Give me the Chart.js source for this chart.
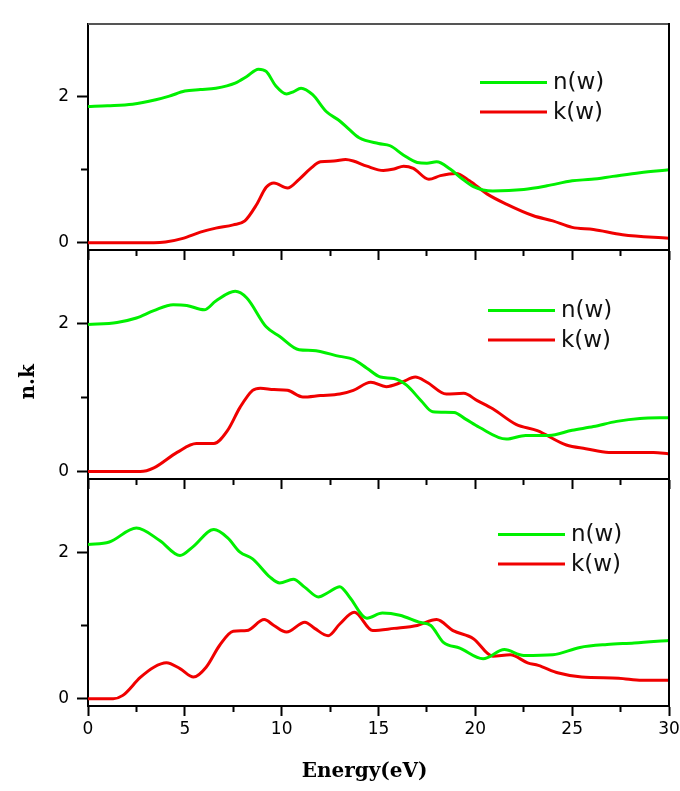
<!DOCTYPE html>
<html><head><meta charset="utf-8">
<script src="https://cdn.jsdelivr.net/npm/chart.js@4.4.1/dist/chart.umd.min.js"></script>
<style>
html,body{margin:0;padding:0;background:#fff;}
#wrap{position:relative;width:680px;height:791px;overflow:hidden;background:#fff;}
canvas{position:absolute;left:0;}
</style></head><body>
<div id="wrap">
<canvas id="c1" width="700" height="262" style="top:0px"></canvas>
<canvas id="c2" width="700" height="250" style="top:240px"></canvas>
<canvas id="c3" width="700" height="321" style="top:470px"></canvas>
</div>
<script>
// ---- tick values and labels ----
const xMajorTicks = [0, 5, 10, 15, 20, 25, 30];
const xMinorTicks = [2.5, 7.5, 12.5, 17.5, 22.5, 27.5];
const yMajorTicks = [0, 2];
const yMinorTicks = [1];
const seriesLabels = ['n(w)', 'k(w)'];
const xTitle = 'Energy(eV)';
const yTitle = 'n.k';

// ---- panel 1 ----
const p1nE = [0, 1, 2.3, 3.5, 4.2, 5.0, 5.8, 6.6, 7.6, 8.2, 8.8, 9.2, 9.7, 10.25, 10.6, 11.0, 11.6, 12.3, 13.0, 13.5, 14.0, 15.0, 15.6, 16.3, 17.0, 17.5, 18.0, 18.7, 19.3, 19.9, 20.9, 22.5, 23.7, 25.0, 26.0, 27.1, 28.5, 30];
const p1n  = [1.87, 1.88, 1.90, 1.96, 2.01, 2.08, 2.10, 2.12, 2.19, 2.28, 2.38, 2.35, 2.15, 2.04, 2.07, 2.12, 2.03, 1.80, 1.67, 1.55, 1.44, 1.36, 1.33, 1.20, 1.10, 1.09, 1.11, 1.01, 0.88, 0.77, 0.71, 0.73, 0.78, 0.85, 0.87, 0.91, 0.96, 1.00];
const p1kE = [0, 2, 3.4, 4.0, 4.9, 5.8, 6.6, 7.5, 8.1, 8.7, 9.2, 9.6, 10.3, 10.9, 11.5, 12.0, 12.7, 13.3, 13.7, 14.4, 15.25, 15.8, 16.3, 16.8, 17.6, 18.2, 19.0, 19.7, 20.6, 21.6, 23.0, 24.0, 25.0, 26.1, 27.6, 30];
const p1k  = [0, 0, 0, 0.01, 0.06, 0.145, 0.20, 0.245, 0.30, 0.52, 0.76, 0.82, 0.75, 0.87, 1.02, 1.11, 1.12, 1.14, 1.12, 1.05, 0.99, 1.01, 1.05, 1.02, 0.87, 0.92, 0.95, 0.85, 0.67, 0.53, 0.37, 0.30, 0.21, 0.18, 0.11, 0.06];

// ---- panel 2 ----
const p2nE = [0, 1.5, 2.5, 3.4, 4.4, 5.1, 6.0, 6.6, 7.6, 8.2, 9.2, 9.9, 10.9, 11.6, 13.0, 13.7, 14.4, 15.1, 15.8, 16.45, 17.2, 17.8, 18.9, 19.5, 20.2, 21.6, 22.6, 23.8, 25.0, 26.1, 27.3, 28.5, 30];
const p2n  = [1.99, 2.02, 2.08, 2.18, 2.26, 2.25, 2.19, 2.31, 2.44, 2.35, 1.96, 1.83, 1.65, 1.64, 1.56, 1.52, 1.40, 1.28, 1.26, 1.17, 0.96, 0.81, 0.80, 0.71, 0.60, 0.44, 0.49, 0.49, 0.56, 0.61, 0.68, 0.72, 0.73];
const p2kE = [0, 2.7, 3.4, 4.6, 5.6, 6.5, 7.2, 7.85, 8.5, 8.9, 9.6, 10.3, 11.1, 12.0, 13.0, 13.7, 14.6, 15.4, 16.2, 16.9, 17.5, 18.5, 19.4, 20.1, 20.9, 22.1, 23.2, 24.7, 25.7, 26.9, 29.2, 30];
const p2k  = [0, 0, 0.05, 0.26, 0.38, 0.38, 0.555, 0.87, 1.10, 1.13, 1.11, 1.10, 1.01, 1.03, 1.05, 1.10, 1.21, 1.15, 1.21, 1.28, 1.21, 1.05, 1.06, 0.96, 0.85, 0.64, 0.555, 0.36, 0.31, 0.26, 0.26, 0.24];

// ---- panel 3 ----
const p3nE = [0, 1.1, 2.5, 3.7, 4.75, 5.4, 6.5, 7.2, 7.85, 8.5, 9.4, 9.9, 10.6, 11.2, 11.9, 12.4, 13.0, 13.5, 14.4, 15.2, 16.1, 17.1, 17.7, 18.35, 19.2, 20.4, 21.5, 22.5, 24.0, 25.4, 26.8, 28.2, 30];
const p3n  = [2.105, 2.14, 2.33, 2.16, 1.955, 2.07, 2.31, 2.20, 2.0, 1.91, 1.66, 1.58, 1.63, 1.52, 1.39, 1.45, 1.53, 1.39, 1.10, 1.17, 1.14, 1.045, 1.0, 0.77, 0.69, 0.545, 0.67, 0.59, 0.60, 0.70, 0.74, 0.76, 0.795];
const p3kE = [0, 1.3, 1.8, 2.7, 3.4, 4.05, 4.75, 5.45, 6.1, 6.8, 7.5, 8.2, 9.1, 9.6, 10.25, 11.2, 11.7, 12.4, 13.0, 13.75, 14.7, 15.8, 17.0, 18.0, 18.85, 19.9, 20.9, 21.8, 22.7, 23.25, 24.3, 25.5, 27.4, 28.6, 30];
const p3k  = [0, 0, 0.045, 0.29, 0.43, 0.49, 0.41, 0.295, 0.43, 0.73, 0.92, 0.93, 1.08, 1.0, 0.91, 1.045, 0.96, 0.86, 1.02, 1.18, 0.93, 0.96, 1.0, 1.08, 0.93, 0.82, 0.58, 0.60, 0.49, 0.455, 0.35, 0.295, 0.28, 0.25, 0.25];

const GREEN = '#00f000';
const RED = '#f00000';
const pts = (xs, ys) => xs.map((x, i) => ({x: x, y: ys[i]}));

const panelDecor = {
  id: 'panelDecor',
  afterDatasetsDraw(chart, args, o) {
    const ctx = chart.ctx, a = chart.chartArea;
    ctx.save();
    if (o.top) {
      ctx.strokeStyle = '#555'; ctx.lineWidth = 2;
      ctx.beginPath(); ctx.moveTo(a.left, a.top); ctx.lineTo(a.right + 1, a.top); ctx.stroke();
    }
    ctx.strokeStyle = '#000'; ctx.lineWidth = 2;
    ctx.beginPath(); ctx.moveTo(a.right, a.top - 1); ctx.lineTo(a.right, a.bottom); ctx.stroke();
    ctx.font = '23px "DejaVu Sans"'; ctx.textBaseline = 'middle'; ctx.textAlign = 'left';
    chart.data.datasets.forEach((ds, i) => {
      const y = a.top + o.ly + i * 29.5;
      const x0 = a.left + o.lx;
      ctx.strokeStyle = ds.borderColor; ctx.lineWidth = 3;
      ctx.beginPath(); ctx.moveTo(x0, y); ctx.lineTo(x0 + 67, y); ctx.stroke();
      ctx.fillStyle = '#111';
      ctx.fillText(ds.label, x0 + 73, y + 1);
    });
    ctx.restore();
  }
};

const tickFont = {family: 'DejaVu Sans', size: 17};
const titleFont = {family: 'DejaVu Serif', size: 20, weight: 'bold'};
const noPad = s => { s.paddingTop = 0; s.paddingBottom = 0; s.paddingLeft = 0; s.paddingRight = 0; };

function makePanel(id, nE, n, kE, k, cfg) {
  new Chart(document.getElementById(id), {
    type: 'line',
    data: {
      datasets: [
        {label: seriesLabels[0], data: pts(nE, n), borderColor: GREEN, borderWidth: 3, pointRadius: 0, tension: 0.4, cubicInterpolationMode: 'monotone', fill: false},
        {label: seriesLabels[1], data: pts(kE, k), borderColor: RED, borderWidth: 3, pointRadius: 0, tension: 0.4, cubicInterpolationMode: 'monotone', fill: false}
      ]
    },
    options: {
      responsive: false,
      animation: false,
      events: [],
      layout: {padding: {top: cfg.padTop, right: 31, left: 0, bottom: 0}},
      plugins: {
        legend: {display: false},
        tooltip: {enabled: false},
        panelDecor: {top: cfg.top, lx: cfg.lx, ly: cfg.ly}
      },
      scales: {
        x: {
          type: 'linear', min: 0, max: 30, position: 'bottom',
          afterBuildTicks: s => { s.ticks = xMajorTicks.map(v => ({value: v})); },
          afterFit: s => { s.height = cfg.xh; noPad(s); },
          ticks: {autoSkip: false, maxRotation: 0, padding: 3, font: tickFont, color: '#000',
                  callback: v => cfg.xLabels ? String(v) : ''},
          grid: {drawOnChartArea: false, drawTicks: true, tickLength: 10, tickWidth: 2, tickColor: '#000'},
          border: {display: true, color: '#000', width: 2},
          title: {display: cfg.xLabels, text: xTitle + '    ', font: titleFont, color: '#000', padding: {top: 0, bottom: 7}}
        },
        xm: {
          type: 'linear', min: 0, max: 30, position: {y: -0.1},
          afterBuildTicks: s => { s.ticks = xMinorTicks.map(v => ({value: v})); },
          afterFit: s => { s.height = 0; noPad(s); },
          ticks: {display: false},
          grid: {drawOnChartArea: false, drawTicks: true, tickLength: 6, tickWidth: 2, tickColor: '#000'},
          border: {display: false}
        },
        y: {
          type: 'linear', min: -0.1, max: 3, position: 'left',
          afterBuildTicks: s => { s.ticks = yMajorTicks.map(v => ({value: v})); },
          afterFit: s => { s.width = 88; noPad(s); },
          ticks: {padding: 8, font: tickFont, color: '#000', callback: v => String(v)},
          grid: {drawOnChartArea: false, drawTicks: true, tickLength: 11, tickWidth: 2, tickColor: '#000'},
          border: {display: true, color: '#000', width: 2},
          title: {display: cfg.yTitle, text: yTitle + '     ', font: titleFont, color: '#000', padding: {top: 17, bottom: 0}}
        },
        ym: {
          type: 'linear', min: -0.1, max: 3, position: {x: 0},
          afterBuildTicks: s => { s.ticks = yMinorTicks.map(v => ({value: v})); },
          afterFit: s => { s.width = 0; noPad(s); },
          ticks: {display: false},
          grid: {drawOnChartArea: false, drawTicks: true, tickLength: 7, tickWidth: 2, tickColor: '#000'},
          border: {display: false}
        }
      }
    },
    plugins: [panelDecor]
  });
}

makePanel('c1', p1nE, p1n, p1kE, p1k, {padTop: 24, xh: 12, xLabels: false, yTitle: false, top: true, lx: 392, ly: 58.5});
makePanel('c2', p2nE, p2n, p2kE, p2k, {padTop: 10, xh: 11, xLabels: false, yTitle: true, top: false, lx: 400, ly: 60.5});
makePanel('c3', p3nE, p3n, p3kE, p3k, {padTop: 9, xh: 85, xLabels: true, yTitle: false, top: false, lx: 410, ly: 55.5});
</script>
</body></html>
